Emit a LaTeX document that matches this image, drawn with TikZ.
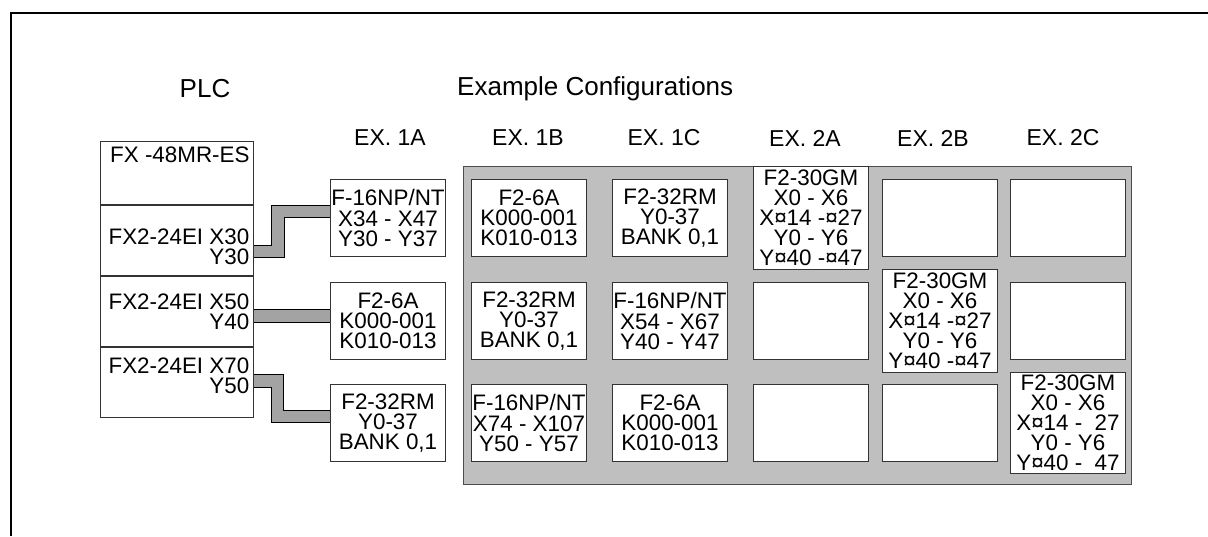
\documentclass[tikz,border=0pt]{standalone}
\usepackage{fontspec}
\setmainfont{Liberation Sans}
\usetikzlibrary{calc}
\newcommand\labelfont{\fontsize{22.4}{20.1}\selectfont}

\tikzset{
  modbox/.style={draw=black!80,fill=white,line width=1,minimum width=115,minimum height=77,inner sep=0,align=center,font=\labelfont,anchor=north west},
  plcbox/.style={draw=black!80,line width=1,minimum width=153,inner sep=0,anchor=north west},
  bus/.style={draw=black,line width=1,double=gray!72,double distance=11.7,line join=miter},
  txt/.style={inner sep=0,font=\labelfont},
  headtxt/.style={inner sep=0,font=\fontsize{23}{23}\selectfont},
  titletxt/.style={inner sep=0,font=\fontsize{26}{26}\selectfont}
}

\begin{document}
\begin{tikzpicture}[x=1pt,y=-1pt]
\useasboundingbox (0,0) rectangle (1208,536);
\draw[line width=2.5] (11,536) -- (11,13) -- (1208,13);

% titles
\node[titletxt] (plctitle) at (205,89) {PLC};
\node[titletxt,anchor=west] (cfgtitle) at (457,89) {Example Configurations};

% PLC stack
\node[plcbox,minimum height=63] (plc1) at (100,141) {};
\node[plcbox,minimum height=70] (plc2) at (plc1.south west) {};
\node[plcbox,minimum height=70] (plc3) at (plc2.south west) {};
\node[plcbox,minimum height=70] (plc4) at (plc3.south west) {};
\node[txt,anchor=west] (plc1lbl) at (110,155) {FX -48MR-ES};
\node[txt,anchor=east,align=right] (plc2lbl) at (249.5,247) {FX2-24EI X30\\Y30};
\node[txt,anchor=east,align=right] (plc3lbl) at (249.5,311.5) {FX2-24EI X50\\Y40};
\node[txt,anchor=east,align=right] (plc4lbl) at (249.5,375.5) {FX2-24EI X70\\Y50};

% column headers
\node[headtxt] (hd1a) at (390,138) {EX. 1A};
\node[headtxt] (hd1b) at (528,138) {EX. 1B};
\node[headtxt] (hd1c) at (664,138) {EX. 1C};
\node[headtxt] (hd2a) at (805,138) {EX. 2A};
\node[headtxt] (hd2b) at (933,138) {EX. 2B};
\node[headtxt] (hd2c) at (1063,138) {EX. 2C};

% example area
\filldraw[fill=gray!50,draw=black!70,line width=1] (463,166) rectangle (1131,484);

% EX. 1A
\node[modbox] (ex1a1) at (330,179) {F-16NP/NT\\X34 - X47\\Y30 - Y37};
\node[modbox] (ex1a2) at (330,282) {F2-6A\\K000-001\\K010-013};
\node[modbox] (ex1a3) at (330,384) {F2-32RM\\Y0-37\\BANK 0,1};
% EX. 1B
\node[modbox] (ex1b1) at (471,179) {F2-6A\\K000-001\\K010-013};
\node[modbox] (ex1b2) at (471,282) {F2-32RM\\Y0-37\\BANK 0,1};
\node[modbox] (ex1b3) at (471,384) {F-16NP/NT\\X74 - X107\\Y50 - Y57};
% EX. 1C
\node[modbox] (ex1c1) at (612,179) {F2-32RM\\Y0-37\\BANK 0,1};
\node[modbox] (ex1c2) at (612,282) {F-16NP/NT\\X54 - X67\\Y40 - Y47};
\node[modbox] (ex1c3) at (612,384) {F2-6A\\K000-001\\K010-013};
% EX. 2A
\node[modbox,minimum height=103] (ex2a1) at (753,166) {F2-30GM\\X0 - X6\\X¤14 -¤27\\Y0 - Y6\\Y¤40 -¤47};
\node[modbox] (ex2a2) at (753,282) {};
\node[modbox] (ex2a3) at (753,384) {};
% EX. 2B
\node[modbox] (ex2b1) at (882,179) {};
\node[modbox,minimum height=103] (ex2b2) at (882,269) {F2-30GM\\X0 - X6\\X¤14 -¤27\\Y0 - Y6\\Y¤40 -¤47};
\node[modbox] (ex2b3) at (882,384) {};
% EX. 2C
\node[modbox] (ex2c1) at (1010,179) {};
\node[modbox] (ex2c2) at (1010,282) {};
\node[modbox,minimum height=101] (ex2c3) at (1010,372) {F2-30GM\\X0 - X6\\X¤14 -\phantom{¤}27\\Y0 - Y6\\Y¤40 -\phantom{¤}47};

% cables
\draw[bus] ([yshift=24.4]plc2.south east) -- ++(23.7,0) |- ([yshift=6.6]ex1a1.west);
\coordinate (bus2) at ([yshift=-4.7]plc3.east);
\draw[bus] (bus2) -- (bus2 -| ex1a2.west);
\draw[bus] ([yshift=-33.9]plc4.north east) -- ++(23.4,0) |- ([yshift=6.6]ex1a3.west);
\end{tikzpicture}
\end{document}
